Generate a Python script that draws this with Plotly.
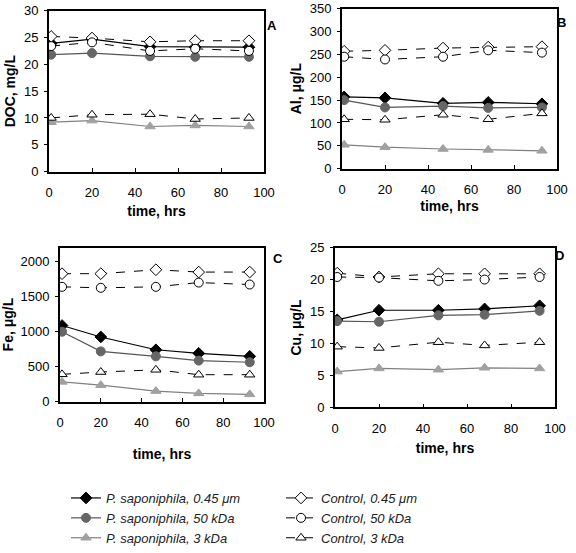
import plotly.graph_objects as go

time = [1, 20, 47, 68, 93]

# Panel A: DOC, mg/L
doc_p045 = [23.9, 24.7, 23.3, 23.2, 23.2]
doc_c045 = [25.2, 24.9, 24.2, 24.4, 24.4]
doc_p50 = [21.8, 22.1, 21.5, 21.4, 21.4]
doc_c50 = [23.4, 24.1, 22.5, 22.9, 22.5]
doc_p3 = [9.2, 9.5, 8.4, 8.6, 8.4]
doc_c3 = [10.0, 10.6, 10.7, 9.8, 10.0]

# Panel B: Al, ug/L
al_p045 = [157, 155, 143, 145, 142]
al_c045 = [257, 259, 264, 266, 267]
al_p50 = [150, 134, 137, 133, 134]
al_c50 = [245, 239, 245, 259, 254]
al_p3 = [52, 47, 43, 41, 39]
al_c3 = [108, 107, 118, 108, 121]

# Panel C: Fe, ug/L
fe_p045 = [1087, 923, 740, 689, 646]
fe_c045 = [1827, 1827, 1883, 1850, 1850]
fe_p50 = [998, 717, 646, 585, 562]
fe_c50 = [1639, 1625, 1639, 1700, 1672]
fe_p3 = [281, 234, 150, 117, 103]
fe_c3 = [389, 422, 454, 384, 384]

# Panel D: Cu, ug/L
cu_p045 = [13.7, 15.2, 15.2, 15.4, 15.9]
cu_c045 = [21.0, 20.4, 20.9, 20.9, 20.9]
cu_p50 = [13.5, 13.4, 14.4, 14.5, 15.1]
cu_c50 = [20.4, 20.3, 19.8, 20.0, 20.4]
cu_p3 = [5.6, 6.1, 5.9, 6.2, 6.1]
cu_c3 = [9.5, 9.3, 10.2, 9.7, 10.2]

series_names = ["P. saponiphila, 0.45 \u03bcm", "Control, 0.45 \u03bcm",
                "P. saponiphila, 50 kDa", "Control, 50 kDa",
                "P. saponiphila, 3 kDa", "Control, 3 kDa"]

panels = [
    ("A", "DOC, mg/L", [0, 30], 5, [doc_p045, doc_c045, doc_p50, doc_c50, doc_p3, doc_c3]),
    ("B", "Al, \u03bcg/L", [0, 350], 50, [al_p045, al_c045, al_p50, al_c50, al_p3, al_c3]),
    ("C", "Fe, \u03bcg/L", [0, 2200], 500, [fe_p045, fe_c045, fe_p50, fe_c50, fe_p3, fe_c3]),
    ("D", "Cu, \u03bcg/L", [0, 25], 5, [cu_p045, cu_c045, cu_p50, cu_c50, cu_p3, cu_c3]),
]

W, H = 576, 553
# pixel boxes (left, right, top, bottom)
boxes = [(49, 264, 11, 176), (342, 557, 9, 173), (60, 264, 254, 412), (335, 555, 254, 418)]
letter_pos = [(272, 16), (568, 13), (278, 265), (566, 262)]
xtitle_standoff = [7, 5, 20, 8]

styles = [
    dict(line=dict(color="black", width=1.2, dash="solid"),
         marker=dict(symbol="diamond", color="black", size=9, line=dict(color="black", width=1))),
    dict(line=dict(color="black", width=1, dash="dash"),
         marker=dict(symbol="diamond", color="white", size=9, line=dict(color="black", width=1))),
    dict(line=dict(color="#555555", width=1.2, dash="solid"),
         marker=dict(symbol="circle", color="#666666", size=9, line=dict(color="#666666", width=1))),
    dict(line=dict(color="black", width=1, dash="dash"),
         marker=dict(symbol="circle", color="white", size=9, line=dict(color="black", width=1))),
    dict(line=dict(color="#808080", width=1.2, dash="solid"),
         marker=dict(symbol="triangle-up", color="#a0a0a0", size=9, line=dict(color="#a0a0a0", width=1))),
    dict(line=dict(color="black", width=1, dash="dash"),
         marker=dict(symbol="triangle-up", color="white", size=9, line=dict(color="black", width=1))),
]

fig = go.Figure()
layout = {}
annotations = []
font_fam = "Liberation Sans, Arial, sans-serif"

for i, (letter, ytitle, yrange, dtick, data) in enumerate(panels):
    n = "" if i == 0 else str(i + 1)
    l, r, t, b = boxes[i]
    layout["xaxis" + n] = dict(
        domain=[l / W, r / W], anchor="y" + n, range=[0, 100], dtick=20,
        showline=True, mirror=True, linecolor="black", linewidth=1.8,
        ticks="inside", ticklen=4, tickcolor="black", showgrid=False, zeroline=False,
        automargin=False, ticklabelstandoff=8,
        tickfont=dict(size=13, color="black", family=font_fam),
        title=dict(text="<b>time, hrs</b>", font=dict(size=14, color="black", family=font_fam),
                   standoff=xtitle_standoff[i]),
    )
    layout["yaxis" + n] = dict(
        domain=[1 - b / H, 1 - t / H], anchor="x" + n, range=yrange, dtick=dtick,
        showline=True, mirror=True, linecolor="black", linewidth=1.8,
        ticks="outside", ticklen=3, tickcolor="black", showgrid=False, zeroline=False,
        automargin=False, ticklabelstandoff=3,
        tickfont=dict(size=13, color="black", family=font_fam),
        title=dict(text="<b>" + ytitle + "</b>", font=dict(size=14, color="black", family=font_fam),
                   standoff=5),
    )
    for k, vals in enumerate(data):
        fig.add_trace(go.Scatter(
            x=time, y=vals, mode="lines+markers", name=series_names[k],
            xaxis="x" + n, yaxis="y" + n, showlegend=(i == 0),
            line=styles[k]["line"], marker=styles[k]["marker"],
        ))
    lx, ly = letter_pos[i]
    annotations.append(dict(text="<b>" + letter + "</b>", x=lx / W, y=1 - ly / H,
                            xref="paper", yref="paper", showarrow=False,
                            font=dict(size=13, color="black", family=font_fam)))

fig.update_layout(
    **layout,
    template="none",
    annotations=annotations,
    width=W, height=H,
    margin=dict(l=0, r=0, t=0, b=0),
    plot_bgcolor="white", paper_bgcolor="white",
    legend=dict(orientation="h", x=66 / W, y=1 - 496 / H, xanchor="left", yanchor="top",
                entrywidth=170, entrywidthmode="pixels", traceorder="normal",
                bgcolor="rgba(0,0,0,0)",
                font=dict(size=13, color="#222222", family=font_fam, style="italic"),
                itemwidth=30, tracegroupgap=0),
    font=dict(family=font_fam),
)

fig.write_html("out.html")
